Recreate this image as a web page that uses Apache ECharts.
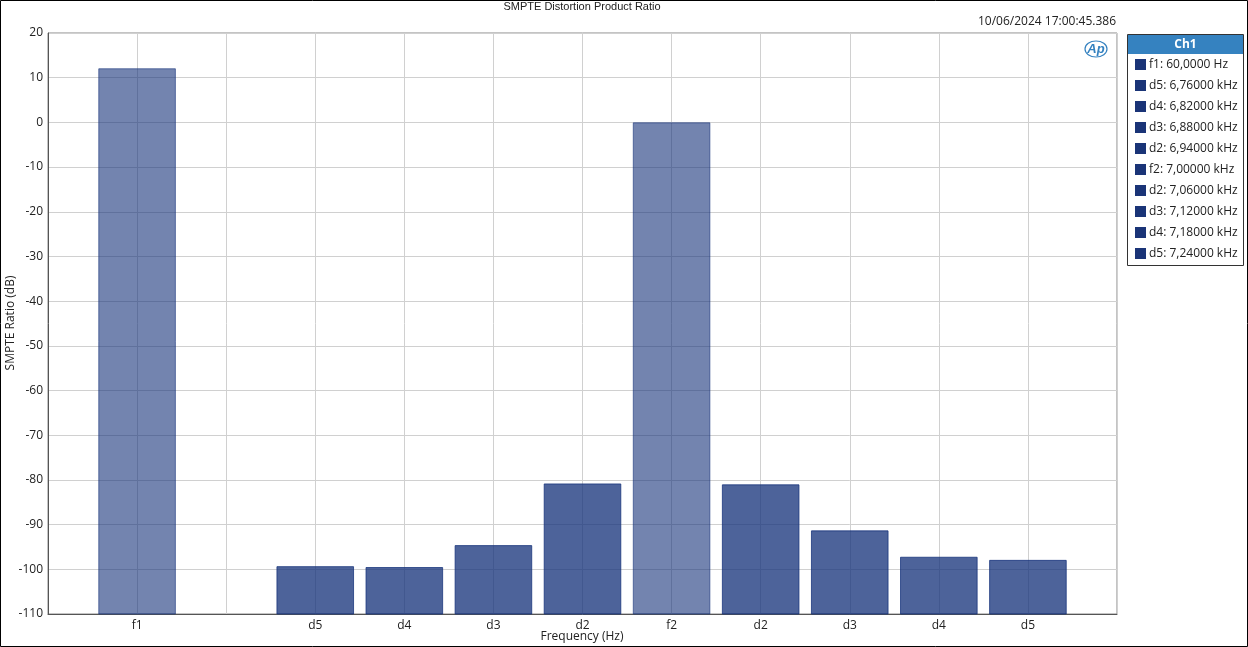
<!DOCTYPE html>
<html><head><meta charset="utf-8">
<script src="https://cdn.jsdelivr.net/npm/echarts@6/dist/echarts.min.js"></script>
<style>html,body{margin:0;padding:0;background:#fff}#c{width:1248px;height:647px}</style>
</head><body><div id="c"></div>
<script>
// slot positions 1..11 on the frequency axis
const categories = ["f1", "", "d5", "d4", "d3", "d2", "f2", "d2", "d3", "d4", "d5"];
const ratioDb = [12.0, null, -99.4, -99.6, -94.7, -80.9, -0.1, -81.1, -91.4, -97.3, -98.0];
const isFundamental = [true, false, false, false, false, false, true, false, false, false, false];
const legendLabels = ["f1: 60,0000 Hz", "d5: 6,76000 kHz", "d4: 6,82000 kHz", "d3: 6,88000 kHz", "d2: 6,94000 kHz",
  "f2: 7,00000 kHz", "d2: 7,06000 kHz", "d3: 7,12000 kHz", "d4: 7,18000 kHz", "d5: 7,24000 kHz"];
const yTicks = { min: -110, max: 20, interval: 10 };
const titleText = "SMPTE Distortion Product Ratio";
const timestamp = "10/06/2024 17:00:45.386";
const xAxisName = "Frequency (Hz)";
const yAxisName = "SMPTE Ratio (dB)";

const chart = echarts.init(document.getElementById('c'));
const barData = [];
ratioDb.forEach((v, i) => {
  if (v === null) return;
  barData.push([i + 1, v, isFundamental[i] ? 1 : 0]);
});

const legendGraphics = [];
const lx = 1127, ly = 34, lw = 116, lh = 231;
legendGraphics.push({ type: 'rect', shape: { x: lx + 0.5, y: ly + 0.5, width: lw, height: lh }, style: { fill: '#fff', stroke: '#333', lineWidth: 1 } });
legendGraphics.push({ type: 'rect', shape: { x: lx + 1, y: ly + 1, width: lw - 1, height: 19 }, style: { fill: '#3582C0' } });
legendGraphics.push({ type: 'text', style: { x: lx + lw / 2 + 0.5, y: ly + 11, text: 'Ch1', fill: '#fff', font: 'bold 12px "Open Sans", sans-serif', textAlign: 'center', textVerticalAlign: 'middle' } });
legendLabels.forEach((t, i) => {
  const cy = 65 + i * 21;
  legendGraphics.push({ type: 'rect', shape: { x: 1135, y: cy - 6, width: 11, height: 11 }, style: { fill: '#1A3477' } });
  legendGraphics.push({ type: 'text', style: { x: 1149, y: cy, text: t, fill: '#222', font: '12px "Open Sans", sans-serif', textVerticalAlign: 'middle' } });
});

chart.setOption({
  animation: false,
  backgroundColor: '#fff',
  grid: { left: 48, right: 131, top: 33, bottom: 33, show: true, borderColor: '#888', borderWidth: 1, containLabel: false, outerBoundsMode: 'none' },
  xAxis: {
    type: 'value', min: 0, max: 12, interval: 1,
    axisLine: { show: true, onZero: false, lineStyle: { color: '#555' } },
    axisTick: { show: false },
    axisLabel: {
      margin: 6, fontSize: 12, color: '#222', fontFamily: '"Open Sans", sans-serif',
      formatter: v => (v >= 1 && v <= categories.length) ? categories[v - 1] : ''
    },
    splitLine: { show: true, lineStyle: { color: '#d0d0d0' } }
  },
  yAxis: {
    type: 'value', min: yTicks.min, max: yTicks.max, interval: yTicks.interval,
    axisLine: { show: true, lineStyle: { color: '#555' } },
    axisTick: { show: false },
    axisLabel: { margin: 5, fontSize: 12, color: '#222', fontFamily: '"Open Sans", sans-serif' },
    splitLine: { show: true, lineStyle: { color: '#d0d0d0' } }
  },
  series: [{
    type: 'custom', data: barData,
    encode: { x: 0, y: 1 },
    renderItem: (params, api) => {
      const x = api.value(0), v = api.value(1), fund = api.value(2);
      const top = api.coord([x, v]);
      const bottom = api.coord([x, yTicks.min]);
      const w = api.size([1, 0])[0] * 0.86;
      return {
        type: 'rect',
        shape: { x: top[0] - w / 2, y: top[1], width: w, height: bottom[1] - top[1] },
        style: { fill: '#15327A', stroke: '#15327A', lineWidth: 1, opacity: fund ? 0.6 : 0.76 }
      };
    }
  }],
  graphic: [
    { type: 'rect', silent: true, shape: { x: 0.5, y: 0.5, width: 1247, height: 646 }, style: { fill: 'none', stroke: '#000', lineWidth: 1 } },
    { type: 'text', style: { x: 582, y: 7, text: titleText, fill: '#222', font: '11px "Liberation Sans", Arial, sans-serif', textAlign: 'center', textVerticalAlign: 'middle' } },
    { type: 'text', style: { x: 1116, y: 22, text: timestamp, fill: '#222', font: '12px "Open Sans", sans-serif', textAlign: 'right', textVerticalAlign: 'middle' } },
    { type: 'text', style: { x: 582, y: 637, text: xAxisName, fill: '#222', font: '12px "Open Sans", sans-serif', textAlign: 'center', textVerticalAlign: 'middle' } },
    { type: 'text', x: 11, y: 323, rotation: Math.PI / 2, style: { x: 0, y: 0, text: yAxisName, fill: '#222', font: '12px "Open Sans", sans-serif', textAlign: 'center', textVerticalAlign: 'middle' } },
    { type: 'ellipse', shape: { cx: 1096, cy: 49, rx: 11, ry: 8 }, style: { fill: 'none', stroke: '#3582C0', lineWidth: 1.2 } },
    { type: 'text', style: { x: 1096, y: 49, text: 'Ap', fill: '#3582C0', font: 'italic bold 13px "Liberation Sans", sans-serif', textAlign: 'center', textVerticalAlign: 'middle' } },
    ...legendGraphics
  ]
});
</script></body></html>
